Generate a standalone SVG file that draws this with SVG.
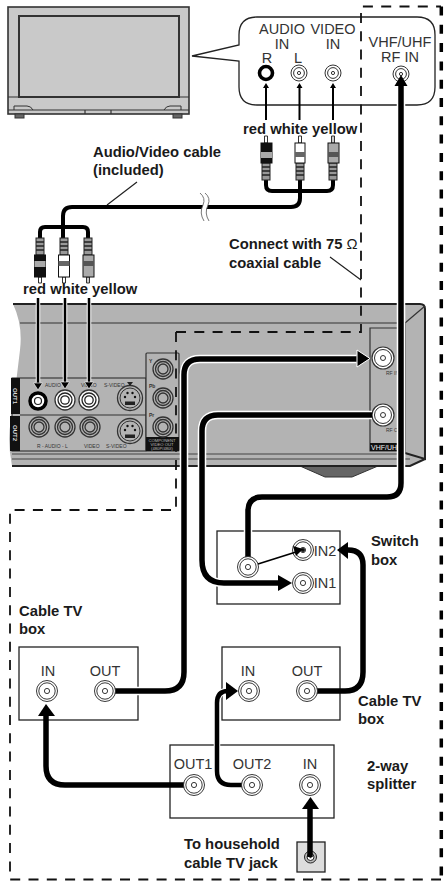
<svg xmlns="http://www.w3.org/2000/svg" width="448" height="882" viewBox="0 0 448 882">
<style>
text{font-family:"Liberation Sans",Arial,sans-serif}
.l{font-size:14.800px;font-weight:bold;fill:#1a1a1a}
.p{font-size:14.500px;fill:#333;text-anchor:middle}
.t{font-size:5px;fill:#333}
.box{fill:#fff;stroke:#222;stroke-width:1.3}
.dash{fill:none;stroke:#111;stroke-width:1.800;stroke-dasharray:10 8.300}
.k{fill:none;stroke:#000;stroke-linecap:butt;stroke-linejoin:round}
.h{fill:none;stroke:#fff;stroke-linecap:butt;stroke-linejoin:round}
</style>
<defs>
<g id="jack"><circle r="10.500" fill="#fff" stroke="#222" stroke-width=".9"/><circle r="8.200" fill="#fff" stroke="#222" stroke-width=".9"/><circle r="2.600" fill="#fff" stroke="#222" stroke-width=".9"/></g>
<g id="jackS"><circle r="8" fill="#fff" stroke="#333" stroke-width="1"/><circle r="5.400" fill="#fff" stroke="#333" stroke-width="1"/><circle r="1.600" fill="#fff" stroke="#333"/></g>
<g id="dj"><circle r="10" fill="none" stroke="#333" stroke-width="1.300"/><circle r="7.500" fill="none" stroke="#333" stroke-width="1.300"/><circle r="5" fill="none" stroke="#333" stroke-width="1.300"/></g>
<g id="wj"><circle r="10" fill="#fff" stroke="#333" stroke-width="1.300"/><circle r="7" fill="none" stroke="#222" stroke-width="1.300"/><circle r="4.200" fill="none" stroke="#222" stroke-width="1.300"/></g>
<g id="rf"><circle r="11" fill="#fff" stroke="#333" stroke-width="1.200"/><circle r="8.500" fill="#fff" stroke="#333"/><circle r="2.500" fill="#fff" stroke="#333"/></g>
<g id="sv"><circle r="12.500" fill="none" stroke="#333" stroke-width="1.300"/><circle r="10" fill="#b3b3b3" stroke="#333" stroke-width="1"/><rect x="-5" y="3.500" width="10" height="3.500" fill="#222"/><circle cx="-5" cy="-1" r="1.200" fill="#111"/><circle cx="5" cy="-1" r="1.200" fill="#111"/><circle cx="-2.500" cy="-5" r="1.200" fill="#111"/><circle cx="2.500" cy="-5" r="1.200" fill="#111"/></g>
<g id="ridge"><rect x="-4" y="0" width="8" height="17" fill="#999" stroke="#222" stroke-width="1"/><path d="M-4 4h8M-4 8h8M-4 12h8" stroke="#222" stroke-width="1.300"/></g>
</defs>

<g id="device">
<path d="M13 304H420Q425 304 425 309V459L410 466H12Q7 440 11 420Q16 385 20 350Q23 325 13 304Z" fill="#b3b3b3"/>
<path d="M300 466L325 477H352L378 466Z" fill="#666" stroke="#333"/>
<path d="M13 304H420Q425 304 425 309V459L405 453" fill="none" stroke="#222" stroke-width="2"/>
<path d="M20 323H405V453M425 306L405 323" fill="none" stroke="#333" stroke-width="1.200"/>
<path d="M12 454H405M12 459H410" stroke="#444" stroke-width="1.200"/>
<path d="M12 466H410L425 459" fill="none" stroke="#222" stroke-width="2"/>
<rect x="12" y="378" width="134" height="73" fill="#b3b3b3" stroke="#222" stroke-width="1"/>
<path d="M20 415H146" stroke="#333" stroke-width="1.200"/>
<path d="M11 378H20V414H11ZM10 416H20V451H10Z" fill="#111"/>
<text class="t" transform="translate(13,396) rotate(90)" text-anchor="middle" style="fill:#ddd;font-size:6px" font-weight="bold">OUT1</text>
<text class="t" transform="translate(13,433) rotate(90)" text-anchor="middle" style="fill:#ddd;font-size:6px" font-weight="bold">OUT2</text>
<circle cx="38" cy="401" r="8" fill="#fff" stroke="#000" stroke-width="3.500"/><circle cx="38" cy="401" r="3.500" fill="#fff" stroke="#222" stroke-width="1.200"/>
<use href="#wj" x="65" y="400"/><use href="#wj" x="89" y="400"/>
<use href="#sv" x="130" y="398"/>
<use href="#dj" x="39" y="427"/><use href="#dj" x="65" y="427"/><use href="#dj" x="90" y="427"/>
<use href="#sv" x="130" y="431"/>
<text class="t" x="45" y="387">AUDIO</text><text class="t" x="81" y="387">VIDEO</text><text class="t" x="104" y="387">S-VIDEO</text><path d="M127 382h6l-3 4Z" fill="#222"/>
<text class="t" x="37" y="448">R - AUDIO - L</text><text class="t" x="84" y="448">VIDEO</text><text class="t" x="106" y="448">S-VIDEO</text>
<rect x="146" y="353" width="33" height="98" rx="1" fill="#b3b3b3" stroke="#333" stroke-width="1.200"/>
<rect x="146" y="437" width="33" height="14" fill="#111"/>
<use href="#dj" x="163" y="369"/><use href="#dj" x="163" y="398"/><use href="#dj" x="163" y="427"/>
<text class="t" x="149" y="363" font-weight="bold">Y</text><text class="t" x="149" y="388" font-weight="bold">Pb</text><text class="t" x="149" y="417" font-weight="bold">Pr</text>
<g text-anchor="middle"><text x="162" y="442" fill="#bbb" style="font-size:4.200px">COMPONENT</text><text x="162" y="446" fill="#bbb" style="font-size:4.200px">VIDEO OUT</text><text x="162" y="450" fill="#bbb" style="font-size:4.200px">(480P/480I)</text></g>
<path d="M405 328H370V451H405" fill="#b3b3b3" stroke="#333" stroke-width="1.200"/>
<rect x="370" y="443" width="30" height="8" fill="#111"/>
<text x="371" y="450" fill="#eee" style="font-size:7px">VHF/UHF</text>
<text class="t" x="386" y="375">RF IN</text><text class="t" x="386" y="432">RF OUT</text>
<use href="#rf" x="383" y="358"/><use href="#rf" x="383" y="415"/>
</g>

<g id="tv">
<rect x="8" y="7" width="181" height="107" fill="#c9c9c9" stroke="#333" stroke-width="1.600"/>
<rect x="19" y="16" width="160" height="81" fill="#c9c9c9" stroke="#333" stroke-width="2"/>
<path d="M8 97H189M8 110H189M85 110V114M111 110V114" stroke="#333" stroke-width="1.200"/>
<path d="M14 110V106H27Q31 106 33 110M181 110V106H170Q166 106 164 110" fill="none" stroke="#333"/>
<rect x="15" y="114" width="9" height="4" fill="#666" stroke="#333"/><rect x="173" y="114" width="9" height="4" fill="#666" stroke="#333"/>
</g>

<g id="tv-panel">
<path d="M192 56L239 45V35Q239 17 257 17H417Q435 17 435 35V87Q435 105 417 105H257Q239 105 239 87V61Z" fill="#fff" stroke="#222" stroke-width="1.300"/>
<text class="p" x="282" y="34">AUDIO</text><text class="p" x="282" y="49">IN</text>
<text class="p" x="333" y="34">VIDEO</text><text class="p" x="333" y="48.600">IN</text>
<text class="p" x="267" y="63">R</text><text class="p" x="298" y="63">L</text>
<text class="p" x="400" y="46.500">VHF/UHF</text><text class="p" x="400" y="61.500">RF IN</text>
<circle cx="266" cy="73" r="6.500" fill="#fff" stroke="#000" stroke-width="3.600"/>
<use href="#jackS" x="299" y="73"/><use href="#jackS" x="333" y="73"/><use href="#jackS" x="401" y="74"/>
</g>

<g id="dashed-zone"><path class="dash" d="M176 332H361V6.500H441"/><path class="dash" d="M176 332V510H10V879.500H441"/><path d="M441.300 6.500V880" fill="none" stroke="#000" stroke-width="3.500" stroke-dasharray="9 9.300"/></g>

<g id="switch-box"><rect class="box" x="217" y="531" width="123" height="73"/>
<text class="p" x="325" y="556">IN2</text><text class="p" x="325" y="588">IN1</text></g>
<g id="cable-box-left"><rect class="box" x="19" y="647" width="119" height="73"/>
<text class="p" x="48" y="676">IN</text><text class="p" x="105" y="676">OUT</text></g>
<g id="cable-box-right"><rect class="box" x="222" y="647" width="118" height="73"/>
<text class="p" x="248" y="676">IN</text><text class="p" x="307" y="676">OUT</text></g>
<g id="splitter"><rect class="box" x="170" y="745" width="164" height="73"/>
<text class="p" x="193" y="769">OUT1</text><text class="p" x="252" y="769">OUT2</text><text class="p" x="310" y="769">IN</text></g>
<g id="wall-jack"><rect x="297" y="842" width="28" height="30" fill="#ddd" stroke="#222" stroke-width="1.300"/></g>

<g id="connectors">
<path class="k" stroke-width="1.200" style="stroke:#222" d="M137 182L107 205M330 257L361 280"/>
<path class="k" stroke-width="2" d="M266 120V86M299.500 120V86M333 120V86"/>
<path d="M266 83l-3 5h6ZM299.500 83l-3 5h6ZM333 83l-3 5h6Z"/>
<path class="k" stroke-width="4" d="M266 180V185Q266 191 272 191H327Q333 191 333 185V180M300 180V198Q300 207 291 207H72Q63 207 63 216V238M40 238V232Q40 227 45 227H83Q88 227 88 232V238"/>
<path d="M200 193Q206 198 203 205Q199 213 204 221H209Q204 213 208 205Q211 198 205 193Z" fill="#fff"/>
<path d="M200 193Q206 198 203 205Q199 213 204 221M205 193Q211 198 208 205Q204 213 209 221" fill="none" stroke="#555" stroke-width=".8"/>
<path class="h" stroke-width="4.500" d="M38 298V382M65 298V382M89 298V382"/>
<path class="k" stroke-width="2.500" d="M38 298V383M65 298V383M89 298V383"/>
<path d="M38 390l-4.500-7h9ZM65 389l-4.500-7h9ZM89 389l-4.500-7h9Z" stroke="#fff" stroke-width=".6"/>
<path class="h" stroke-width="8.500" d="M115 691H165Q184 691 184 672V375Q184 359 200 359H356"/>
<path class="k" stroke-width="5.500" d="M115 691H165Q184 691 184 672V375Q184 359 200 359H358"/>
<path d="M357 350L370 358.500L357 367Z" stroke="#fff"/>
<path class="h" stroke-width="8.500" d="M372 415H218Q202 415 202 431V560Q202 583 224 583H279"/>
<path class="k" stroke-width="5.500" d="M372 415H218Q202 415 202 431V560Q202 583 224 583H279"/>
<path d="M278 575L292 583L278 591Z"/>
<path class="h" stroke-width="8.500" d="M401 86V483Q401 497 387 497H262Q248 497 248 511V557"/>
<path class="k" stroke-width="5.500" d="M401 85V483Q401 497 387 497H262Q248 497 248 511V557"/>
<path class="k" stroke-width="5.500" d="M316 691H345Q363 691 363 672V565Q363 550 348 550"/>
<path d="M348 542L337 550L348 559Z"/>
<path class="k" stroke-width="5.500" d="M184 785H65Q46 785 46 766V715"/>
<path d="M38 716L46 704L55 716Z"/>
<path class="h" stroke-width="6.500" d="M242 785H231Q217 785 217 771V703Q217 691 228 691"/>
<path class="k" stroke-width="4.500" d="M242 785H231Q217 785 217 771V703Q217 691 228 691"/>
<path d="M226 682L238 691L226 700Z"/>
</g>

<g id="jacks">
<use href="#jack" x="248" y="567"/><use href="#jack" x="303" y="550"/><use href="#jack" x="303" y="583"/>
<use href="#jack" x="47" y="691"/><use href="#jack" x="105" y="691"/><use href="#jack" x="249" y="691"/><use href="#jack" x="307" y="691"/>
<use href="#jack" x="194" y="785"/><use href="#jack" x="252" y="785"/><use href="#jack" x="310" y="785"/>
<circle cx="310.500" cy="857" r="6" fill="#bbb" stroke="#222"/><circle cx="310.500" cy="857" r="3.500" fill="#fff" stroke="#222"/><circle cx="310.500" cy="857" r="1.200" fill="#333"/>
<circle cx="303" cy="550" r="2" fill="#111"/>
</g>
<g id="connectors-top"><path class="k" stroke-width="1.800" d="M258 564L296 552"/><path d="M303 549L293 546L296 556Z"/>
<path class="k" stroke-width="5.500" d="M310 857V808"/><path d="M302 809L310.500 797L319 809Z"/>
<path d="M394.500 86L401 75L407.500 86Z"/></g>

<g id="plugs-top">
<g id="plug-red-top"><use href="#ridge" x="266" y="163"/><path d="M264.500 136h3v7h-3Z" fill="#fff" stroke="#333"/><rect x="261" y="143" width="11" height="20" fill="#111" stroke="#111"/><rect x="261" y="152" width="11" height="6" fill="#aaa"/></g>
<g id="plug-white-top"><use href="#ridge" x="300" y="163"/><path d="M298.500 136h3v7h-3Z" fill="#fff" stroke="#333"/><rect x="295" y="143" width="10" height="20" fill="#fff" stroke="#111"/><rect x="295" y="152" width="10" height="5" fill="#666"/></g>
<g id="plug-yellow-top"><use href="#ridge" x="333" y="163"/><path d="M331.500 136h3v7h-3Z" fill="#ccc" stroke="#333"/><rect x="328" y="143" width="11" height="20" fill="#aaa" stroke="#111"/><rect x="328" y="152" width="11" height="5" fill="#555"/></g>
</g>
<g id="plugs-bottom">
<g id="plug-red-bottom"><use href="#ridge" x="40" y="238"/><path d="M38.500 277h3v6h-3Z" fill="#fff" stroke="#333"/><rect x="34.500" y="255" width="11" height="22" fill="#111" stroke="#111"/><rect x="34.500" y="261" width="11" height="6" fill="#aaa"/></g>
<g id="plug-white-bottom"><use href="#ridge" x="64" y="238"/><path d="M62.500 277h3v6h-3Z" fill="#fff" stroke="#333"/><rect x="58.500" y="255" width="11" height="22" fill="#fff" stroke="#111"/><rect x="58.500" y="261" width="11" height="5" fill="#666"/></g>
<g id="plug-yellow-bottom"><use href="#ridge" x="88" y="238"/><path d="M86.500 277h3v6h-3Z" fill="#ccc" stroke="#333"/><rect x="83" y="255" width="11" height="22" fill="#aaa" stroke="#111"/><rect x="83" y="261" width="11" height="5" fill="#555"/></g>
</g>

<g id="labels">
<text class="l" x="243" y="134">red white yellow</text>
<text class="l" x="23" y="294">red white yellow</text>
<text class="l" x="93" y="157">Audio/Video cable</text><text class="l" x="93" y="175">(included)</text>
<text class="l" x="229" y="249">Connect with 75 <tspan font-weight="normal">Ω</tspan></text><text class="l" x="229" y="268">coaxial cable</text>
<text class="l" x="371" y="546">Switch</text><text class="l" x="371" y="565">box</text>
<text class="l" x="19" y="616">Cable TV</text><text class="l" x="19" y="634">box</text>
<text class="l" x="358" y="706">Cable TV</text><text class="l" x="358" y="724">box</text>
<text class="l" x="367" y="771">2-way</text><text class="l" x="367" y="789">splitter</text>
<text class="l" x="184" y="849">To household</text><text class="l" x="184" y="868">cable TV  jack</text>
</g>
</svg>
